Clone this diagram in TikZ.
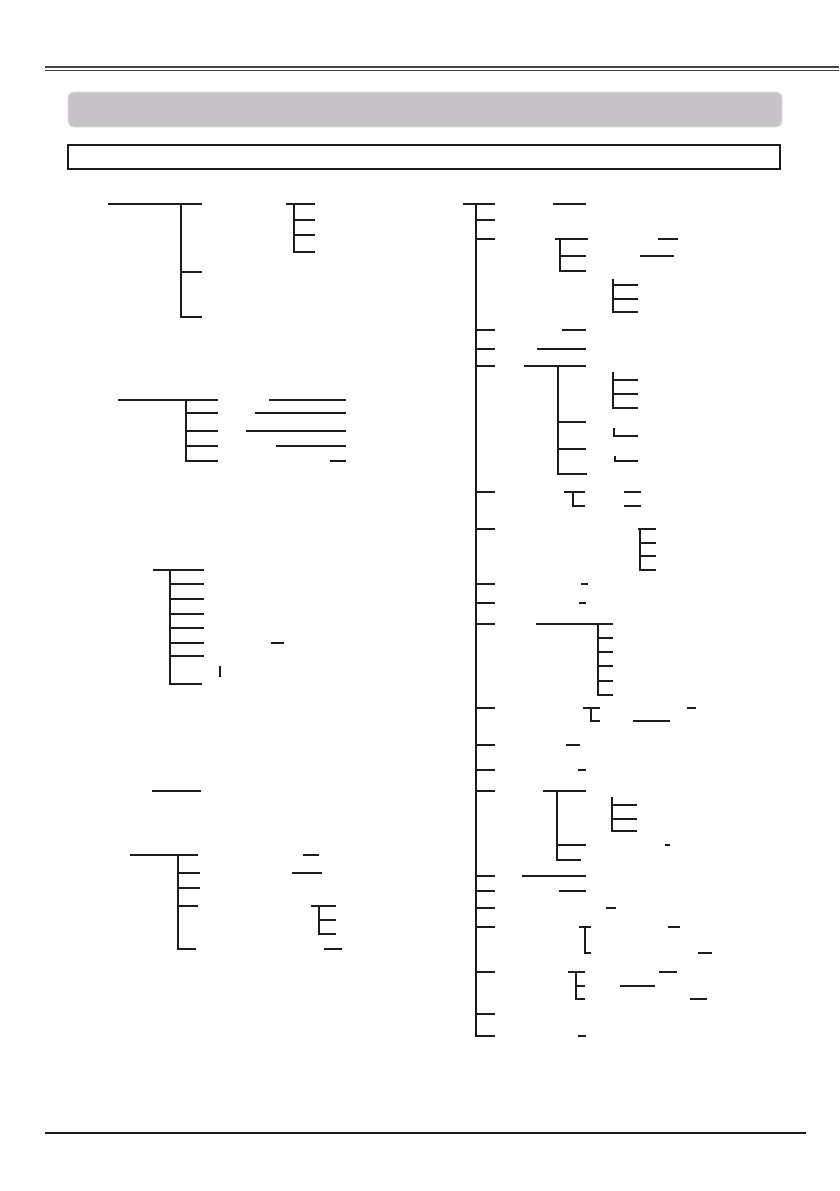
\documentclass[tikz,border=0pt]{standalone}
\usepackage{tikz}
\definecolor{barfill}{RGB}{198,196,199}
\definecolor{barrim}{RGB}{222,221,223}
\definecolor{rulegray}{RGB}{70,70,70}
\definecolor{ink}{RGB}{30,28,29}
\tikzset{
  ln/.style={line width=1.25pt, color=ink},
  hdr/.style={line width=1.3pt, color=rulegray},
  hdrthin/.style={line width=0.9pt, color=rulegray},
}
\begin{document}
\begin{tikzpicture}[x=1pt,y=-1pt]
\useasboundingbox (0,0) rectangle (839,1191);
% header
\coordinate (hl1) at (45,67); \coordinate (hr1) at (839,67);
\coordinate (hl2) at (45,70); \coordinate (hr2) at (839,70);
\draw[hdr] (hl1) -- (hr1);
\draw[hdrthin] (hl2) -- (hr2);
\fill[barfill, draw=barrim, line width=0.8pt, rounded corners=6pt] (68,92) rectangle (782,127);
\draw[line width=1.3pt, color=ink] (68,145) rectangle (780,169);
\coordinate (fl) at (45,1133); \coordinate (fr) at (806,1133);
\draw[line width=1.2pt, color=ink] (fl) -- (fr);

% ---------- left column ----------
% tree 1
\draw[ln] (108,204) -- (202,204);
\draw[ln] (181,204) -- (181,317) -- (202,317);
\draw[ln] (181,272) -- (202,272);
\draw[ln] (286,204) -- (315,204);
\draw[ln] (294,204) -- (294,252) -- (315,252);
\foreach \y in {220,235} \draw[ln] (294,\y) -- (315,\y);

% tree 2
\draw[ln] (118,400) -- (218,400);
\draw[ln] (186,400) -- (186,461) -- (218,461);
\foreach \y in {413,431,446} \draw[ln] (186,\y) -- (218,\y);
\draw[ln] (269,400) -- (346,400);
\draw[ln] (255,413) -- (346,413);
\draw[ln] (246,431) -- (346,431);
\draw[ln] (276,446) -- (346,446);
\draw[ln] (330,461) -- (346,461);

% tree 3
\draw[ln] (153,570) -- (204,570);
\draw[ln] (170,570) -- (170,684) -- (202,684);
\foreach \y in {584,599,614,628,643,656} \draw[ln] (170,\y) -- (204,\y);
\draw[ln] (271,643) -- (284,643);
\draw[ln] (220,666) -- (220,677);

% tree 4
\draw[ln] (152,791) -- (201,791);
\draw[ln] (130,855) -- (198,855);
\draw[ln] (178,855) -- (178,949) -- (196,949);
\draw[ln] (178,873) -- (200,873);
\draw[ln] (179,888) -- (200,888);
\draw[ln] (178,906) -- (198,906);
\draw[ln] (303,855) -- (319,855);
\draw[ln] (292,873) -- (322,873);
\draw[ln] (311,906) -- (336,906);
\draw[ln] (319,906) -- (319,934) -- (336,934);
\draw[ln] (319,920) -- (336,920);
\draw[ln] (324,949) -- (342,949);

% ---------- right column ----------
\draw[ln] (463,204) -- (495,204);
\draw[ln] (476,204) -- (476,1036) -- (495,1036);
\foreach \y in {220,239,330,349,366,492,529,584,603,624,708,745,770,791,876,891,908,927,972,1014}
  \draw[ln] (476,\y) -- (495,\y);

\draw[ln] (553,204) -- (586,204);
\draw[ln] (555,239) -- (588,239);
\draw[ln] (560,239) -- (560,271) -- (586,271);
\draw[ln] (560,256) -- (586,256);
\draw[ln] (658,239) -- (678,239);
\draw[ln] (640,256) -- (674,256);
\draw[ln] (613,279) -- (613,312) -- (638,312);
\foreach \y in {285,299} \draw[ln] (613,\y) -- (638,\y);

\draw[ln] (562,330) -- (586,330);
\draw[ln] (537,349) -- (586,349);
\draw[ln] (524,366) -- (586,366);
\draw[ln] (558,366) -- (558,474) -- (587,474);
\foreach \y in {422,449} \draw[ln] (558,\y) -- (586,\y);
\draw[ln] (613,372) -- (613,408) -- (638,408);
\foreach \y in {380,394} \draw[ln] (613,\y) -- (638,\y);
\draw[ln] (614,428) -- (614,436) -- (638,436);
\draw[ln] (615,456) -- (615,461) -- (638,461);

\draw[ln] (564,492) -- (585,492);
\draw[ln] (573,492) -- (573,506) -- (585,506);
\draw[ln] (624,492) -- (641,492);
\draw[ln] (624,506) -- (641,506);

\draw[ln] (638,529) -- (656,529);
\draw[ln] (640,529) -- (640,570) -- (656,570);
\foreach \y in {543,556} \draw[ln] (640,\y) -- (656,\y);

\draw[ln] (581,584) -- (588,584);
\draw[ln] (579,603) -- (586,603);

\draw[ln] (536,624) -- (613,624);
\draw[ln] (598,624) -- (598,695) -- (613,695);
\foreach \y in {638,652,666,681} \draw[ln] (598,\y) -- (613,\y);

\draw[ln] (583,708) -- (600,708);
\draw[ln] (591,708) -- (591,721) -- (600,721);
\draw[ln] (633,721) -- (670,721);
\draw[ln] (687,708) -- (696,708);

\draw[ln] (566,745) -- (580,745);
\draw[ln] (578,770) -- (586,770);

\draw[ln] (543,791) -- (586,791);
\draw[ln] (557,791) -- (557,860) -- (581,860);
\draw[ln] (557,845) -- (586,845);
\draw[ln] (612,797) -- (612,831) -- (637,831);
\foreach \y in {805,819} \draw[ln] (612,\y) -- (637,\y);
\draw[ln] (665,845) -- (670,845);

\draw[ln] (522,876) -- (586,876);
\draw[ln] (559,891) -- (586,891);
\draw[ln] (606,908) -- (616,908);

\draw[ln] (579,927) -- (591,927);
\draw[ln] (585,927) -- (585,953) -- (591,953);
\draw[ln] (668,927) -- (680,927);
\draw[ln] (698,953) -- (712,953);

\draw[ln] (568,972) -- (585,972);
\draw[ln] (576,972) -- (576,1000);
\foreach \y in {986,999} \draw[ln] (576,\y) -- (585,\y);
\draw[ln] (659,972) -- (677,972);
\draw[ln] (620,986) -- (655,986);
\draw[ln] (690,999) -- (707,999);

\draw[ln] (578,1036) -- (586,1036);
\end{tikzpicture}
\end{document}
